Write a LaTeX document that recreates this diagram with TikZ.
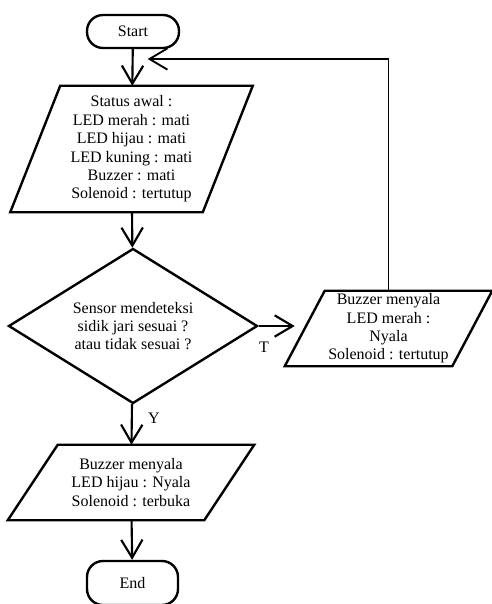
\documentclass[tikz,border=0pt]{standalone}
\usepackage{fontspec}
\setmainfont{Liberation Serif}
\usetikzlibrary{positioning,arrows.meta,shapes.geometric,calc}
\tikzset{
  flow/.style={line width=1.6pt, -{Straight Barb[length=13.5pt,width=16pt]}},
  terminal/.style={draw, line width=1.8pt, rounded corners=12pt,
    minimum width=69pt, minimum height=24.75pt, font=\fontsize{12}{14}\selectfont},
  iobox/.style={align=center, inner sep=0pt, font=\fontsize{12}{13.8}\selectfont},
  decision/.style={draw, diamond, aspect=1.6, line width=1.8pt, inner sep=0pt,
    align=center, minimum width=186.75pt, minimum height=116.25pt,
    font=\fontsize{12}{13.2}\selectfont},
  lbl/.style={font=\fontsize{12}{14}\selectfont, inner sep=0pt}
}
% parallelogram round a text node: #1 node, #2 half of the slant
\newcommand\ioframe[2]{\draw[line width=1.8pt, line join=miter]
  ($(#1.north west)+(#2,0)$) -- ($(#1.north east)+(#2,0)$) --
  ($(#1.south east)-(#2,0)$) -- ($(#1.south west)-(#2,0)$) -- cycle;}

\begin{document}
\begin{tikzpicture}[x=0.75pt, y=-0.75pt]
  \useasboundingbox (0,0) rectangle (492,604);
  % main column
  \node[terminal] (start) at (133,31.5) {Start};
  \node[iobox, minimum width=144pt, minimum height=94.5pt] (init) at (131.5,149)
    {Status awal :\\LED merah : mati\\LED hijau : mati\\LED kuning : mati\\Buzzer : mati\\Solenoid : tertutup};
  \ioframe{init}{25}
  \node[decision] (check) at (133,326)
    {Sensor mendeteksi\\sidik jari sesuai ?\\atau tidak sesuai ?};
  \node[iobox, minimum width=147pt, minimum height=56.25pt] (open) at (131,482.5)
    {Buzzer menyala\\LED hijau : Nyala\\Solenoid : terbuka};
  \ioframe{open}{25}
  \node[terminal, minimum width=68.25pt, minimum height=33pt] (end) at (132.5,583) {End};
  % rejected branch
  \node[iobox, minimum width=125.25pt, minimum height=56.25pt] (alarm) at (388.5,328.5)
    {Buzzer menyala\\LED merah :\\Nyala\\Solenoid : tertutup};
  \ioframe{alarm}{20}
  \coordinate (join) at (133,59);
  % connectors
  \draw[flow] (start) -- (init);
  \draw[flow] (init) -- (check);
  \draw[flow] (check) -- (open);
  \draw[flow] (open) -- (end);
  \draw[flow, shorten >=7.5pt] (check.east) -- (check.east -| alarm.west);
  \draw[flow, line width=1.4pt, shorten >=11pt] (alarm.north) |- (join);
  \node[lbl] (tlabel) at (264,347) {T};
  \node[lbl] (ylabel) at (154,418) {Y};
\end{tikzpicture}
\end{document}
